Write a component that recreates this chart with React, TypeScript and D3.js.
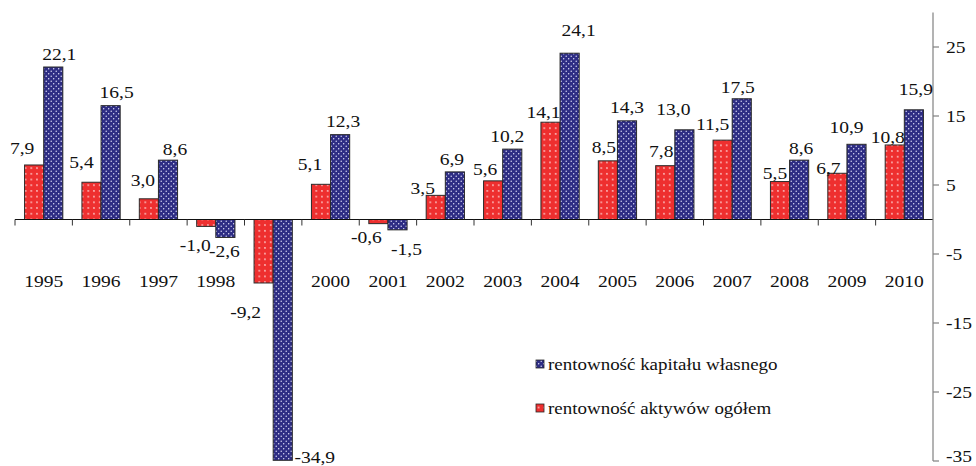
import React from 'react';
import * as d3 from 'd3';

const years = ['1995','1996','1997','1998','1999','2000','2001','2002','2003','2004','2005','2006','2007','2008','2009','2010'];
// tick label for 1999 is hidden behind its bars in the reference
const yearLabels = ['1995','1996','1997','1998','','2000','2001','2002','2003','2004','2005','2006','2007','2008','2009','2010'];
const roa = [7.9, 5.4, 3.0, -1.0, -9.2, 5.1, -0.6, 3.5, 5.6, 14.1, 8.5, 7.8, 11.5, 5.5, 6.7, 10.8];
const roe = [22.1, 16.5, 8.6, -2.6, -34.9, 12.3, -1.5, 6.9, 10.2, 24.1, 14.3, 13.0, 17.5, 8.6, 10.9, 15.9];
const yTicks = [25, 15, 5, -5, -15, -25, -35];
const legendLabels = ['rentowność kapitału własnego', 'rentowność aktywów ogółem'];

// label nudges relative to bar end (manual placement as in the source picture)
const roaLabelDx = [-12, -10, -6, -11, -18, -11, -12, -13, -8, -7, -4, -4, -10, -5, -9, -7];
const roaLabelDy = [-11, -14, -13, 25, 35, -14, 19, -1, -6, -4, -8, -9, -10, -3, 1, -2];
const roeLabelDx = [6, 6, 7, -1, 32, 3, 9, -3, -5, 9, 0, -11, -4, 2, -10, 2];
const roeLabelDy = [-7, -8, -5, 20, 3, -8, 25, -7, -7, -17, -8, -15, -6, -6, -11, -15];

const W = 976, H = 466;
const FONT = '"Liberation Serif", "Times New Roman", serif';
const SX = 1.15;
const RED = '#ee2f2f';
const BLUE = '#2e2d84';

const fmt = (v: number) => v.toFixed(1).replace('.', ',');

function T({ x, y, anchor = 'middle', size = 17, children }: any) {
  return (
    <text transform={`translate(${x},${y}) scale(${SX},1)`} textAnchor={anchor}
      fontFamily={FONT} fontSize={size} fill="#111">{children}</text>
  );
}

export default function App() {
  const x = d3.scaleBand<string>().domain(years).range([15, 933]).padding(0);
  const bw = x.bandwidth();
  const inner = d3.scaleBand<string>().domain(['roa', 'roe']).range([0, bw]).paddingInner(0).paddingOuter(0.5);
  const y = d3.scaleLinear().domain([-35, 25]).range([461, 47]);
  const y0 = y(0);
  const axisX = 933;

  const bars = (vals: number[], key: string, fill: string) =>
    vals.map((v, i) => {
      const bx = (x(years[i]) as number) + (inner(key) as number);
      const top = Math.min(y(v), y0);
      const h = Math.abs(y(v) - y0);
      return <rect key={key + i} x={bx} y={top} width={inner.bandwidth()} height={h}
        fill={fill} stroke="#2a2a2a" strokeWidth={1} />;
    });

  const labels = (vals: number[], key: string, dx: number[], dy: number[]) =>
    vals.map((v, i) => {
      const cx = (x(years[i]) as number) + (inner(key) as number) + inner.bandwidth() / 2;
      const end = y(v);
      return <T key={'l' + key + i} x={cx + dx[i]} y={end + dy[i]}>{fmt(v)}</T>;
    });

  return (
    <svg width={W} height={H} style={{ position: 'absolute', left: 0, top: 0, background: '#fff' }}>
      <defs>
        <pattern id="pRed" patternUnits="userSpaceOnUse" width={5.7} height={5.7}>
          <rect width={5.7} height={5.7} fill={RED} />
          <circle cx={2.8} cy={2.8} r={0.8} fill="#ffe0e0" />
        </pattern>
        <pattern id="pBlue" patternUnits="userSpaceOnUse" width={5} height={5}>
          <rect width={5} height={5} fill={BLUE} />
          <circle cx={1.2} cy={1.2} r={0.7} fill="#e6e6ff" />
          <circle cx={3.7} cy={3.7} r={0.7} fill="#e6e6ff" />
        </pattern>
      </defs>
      <rect width={W} height={H} fill="#fff" />

      {/* category labels */}
      {years.map((yr, i) => yearLabels[i] ? (
        <T key={'yl' + yr} x={(x(yr) as number) + bw / 2} y={287}>{yearLabels[i]}</T>
      ) : null)}

      {bars(roa, 'roa', 'url(#pRed)')}
      {bars(roe, 'roe', 'url(#pBlue)')}

      {/* baseline & category ticks */}
      <line x1={15} x2={axisX} y1={y0} y2={y0} stroke="#111" strokeWidth={1} />
      {years.map((yr) => (
        <line key={'xt' + yr} x1={(x(yr) as number)} x2={(x(yr) as number)} y1={y0} y2={y0 + 6} stroke="#333" strokeWidth={1} />
      ))}

      {/* right axis */}
      <line x1={axisX} x2={axisX} y1={y(30)} y2={y(-35)} stroke="#808080" strokeWidth={1.2} />
      {yTicks.map((t) => (
        <g key={'yt' + t}>
          <line x1={axisX} x2={axisX + 6} y1={y(t)} y2={y(t)} stroke="#808080" strokeWidth={1.2} />
          <T x={946} y={Math.min(y(t) + 6, H - 4)} anchor="start">{t}</T>
        </g>
      ))}

      {labels(roa, 'roa', roaLabelDx, roaLabelDy)}
      {labels(roe, 'roe', roeLabelDx, roeLabelDy)}

      {/* legend */}
      <rect x={536} y={360} width={8} height={8} fill="url(#pBlue)" stroke="#2a2a2a" strokeWidth={0.8} />
      <T x={548} y={370} anchor="start" size={16.5}>{legendLabels[0]}</T>
      <rect x={536} y={404} width={8} height={8} fill="url(#pRed)" stroke="#2a2a2a" strokeWidth={0.8} />
      <T x={548} y={414} anchor="start" size={16.5}>{legendLabels[1]}</T>
    </svg>
  );
}
